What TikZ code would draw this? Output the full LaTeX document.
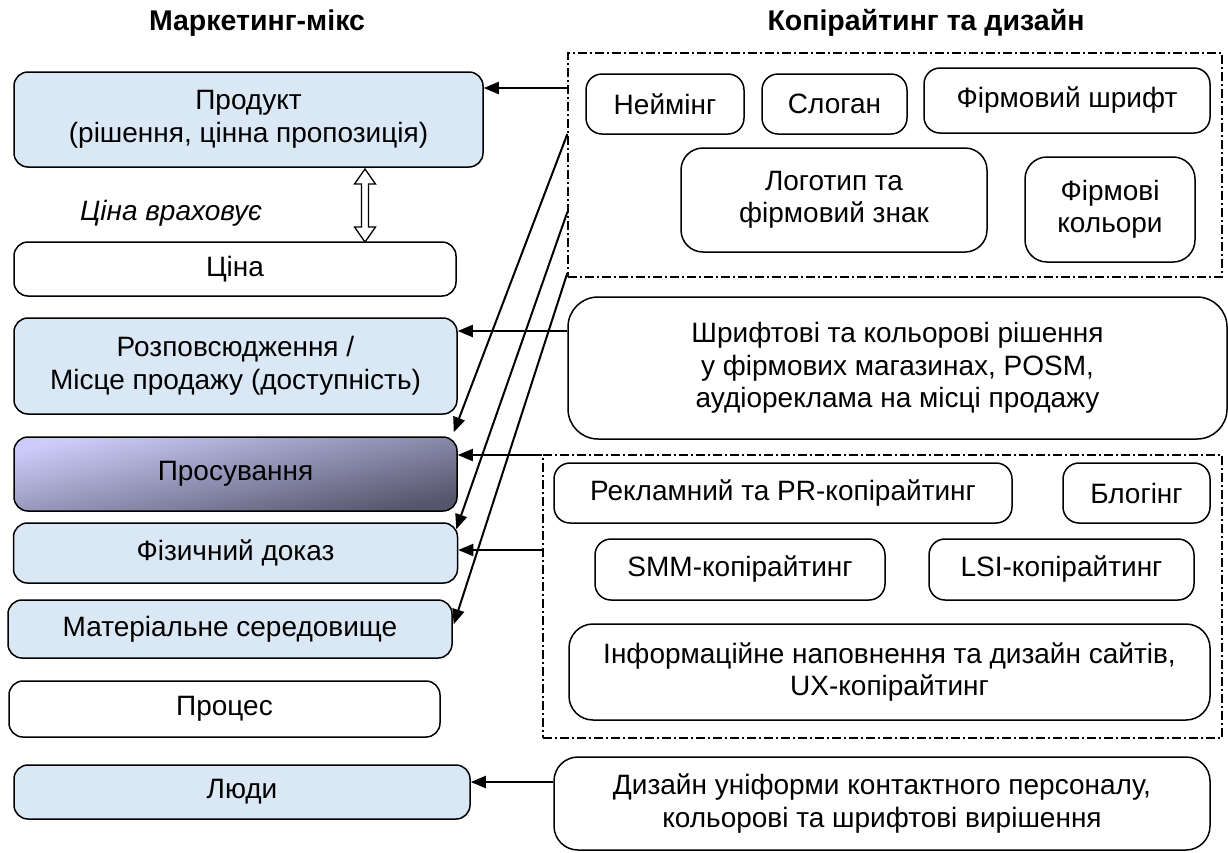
\documentclass[tikz,border=0pt]{standalone}
\usepackage{fontspec}
\setmainfont{Liberation Sans}
\usetikzlibrary{arrows.meta,calc}
\definecolor{texblue}{HTML}{DAE7F5}
\definecolor{plight}{HTML}{CCCCFA}
\definecolor{pdark}{HTML}{55556C}
\tikzset{
  base/.style={draw=black, line width=1.5pt, inner sep=0pt, align=center,
    font=\fontsize{28}{32.5}\selectfont},
  mixbox/.style={base, rounded corners=14pt, fill=texblue},
  plainbox/.style={base, rounded corners=14pt, fill=white},
  cbox/.style={base, rounded corners=16pt},
  bigbox/.style={base, rounded corners=30pt},
  frame/.style={draw=black, line width=1.3pt, dash pattern=on 9pt off 3pt on 2pt off 3pt, inner sep=0pt},
  arr/.style={line width=2pt, -{Triangle[length=15pt,width=12pt]}},
  title/.style={font=\fontsize{28.5}{32}\selectfont\bfseries},
}
\begin{document}
\begin{tikzpicture}[x=1pt,y=-1pt]
\useasboundingbox (0,0) rectangle (1228,852);
% titles
\node[title] (t1) at (257,23) {Маркетинг-мікс};
\node[title] (t2) at (926,23) {Копірайтинг та дизайн};
% frames
\node[frame, minimum width=654pt, minimum height=224pt] (fr1) at (895,165) {};
\node[frame, minimum width=679pt, minimum height=283pt] (fr2) at (882.5,596.5) {};
% left column
\node[mixbox, minimum width=469pt, minimum height=95pt] (prod) at (248.5,119.5) {Продукт\\(рішення, цінна пропозиція)};
\node[plainbox, minimum width=442pt, minimum height=54pt] (price) at (235,269) {Ціна};
\node[mixbox, minimum width=443pt, minimum height=96pt] (place) at (235.5,366) {Розповсюдження /\\Місце продажу (доступність)};
\node[base, rounded corners=14pt, top color=plight, bottom color=pdark, shading angle=12,
  minimum width=443pt, minimum height=74pt] (promo) at (235.5,474) {Просування};
\node[mixbox, minimum width=444pt, minimum height=60pt] (phys) at (235.5,553) {Фізичний доказ};
\node[mixbox, minimum width=444pt, minimum height=58pt] (matenv) at (230,629) {Матеріальне середовище};
\node[plainbox, minimum width=431pt, minimum height=56pt] (proc) at (224.5,709) {Процес};
\node[mixbox, minimum width=456pt, minimum height=54pt] (people) at (242,792) {Люди};
\node[font=\fontsize{28}{32.5}\selectfont\itshape] (note) at (171,213) {Ціна враховує};
% double arrow between product and price
\coordinate (dt) at (365,169);
\coordinate (db) at (365,242);
\draw[line width=1.3pt, fill=white] (dt) -- ++(10.5,15) -- ++(-7,0) |- ($(db)+(10.5,-15)$) -- (db)
  -- ++(-10.5,-15) -- ++(7,0) |- ($(dt)+(-10.5,15)$) -- cycle;
% right: top group
\node[cbox, minimum width=158pt, minimum height=60pt] (naming) at (665,104) {Неймінг};
\node[cbox, minimum width=145pt, minimum height=60pt] (slogan) at (834.5,104) {Слоган};
\node[cbox, minimum width=286pt, minimum height=65pt] (font) at (1067,100.5) {Фірмовий шрифт};
\node[cbox, minimum width=306pt, minimum height=104pt, rounded corners=22pt] (logo) at (834,200) {Логотип та\\фірмовий знак};
\node[cbox, minimum width=170pt, minimum height=105pt, rounded corners=22pt] (colors) at (1110,209.5) {Фірмові\\кольори};
\node[bigbox, minimum width=659pt, minimum height=142pt] (shr) at (897.5,368) {Шрифтові та кольорові рішення\\у фірмових магазинах, POSM,\\аудіореклама на місці продажу};
% right: copywriting group
\node[cbox, minimum width=458pt, minimum height=60pt] (adv) at (783,493) {Рекламний та PR-копірайтинг};
\node[cbox, minimum width=147pt, minimum height=60pt] (blog) at (1136.5,493) {Блогінг};
\node[cbox, minimum width=290pt, minimum height=61pt] (smm) at (740,569.5) {SMM-копірайтинг};
\node[cbox, minimum width=265pt, minimum height=61pt] (lsi) at (1061.5,569.5) {LSI-копірайтинг};
\node[bigbox, minimum width=641pt, minimum height=96pt, rounded corners=24pt] (info) at (889.5,672) {Інформаційне наповнення та дизайн сайтів,\\UX-копірайтинг};
\node[bigbox, minimum width=656pt, minimum height=93pt, rounded corners=24pt] (des) at (882,803.5) {Дизайн уніформи контактного персоналу,\\кольорові та шрифтові вирішення};
% connector levels
\coordinate (y88) at (0,88);
\coordinate (y134) at (0,134);
\coordinate (y212) at (0,212);
\coordinate (y273) at (0,273);
\coordinate (y331) at (0,331);
\coordinate (y455) at (0,455);
\coordinate (y550) at (0,550);
\coordinate (y782) at (0,782);
% arrows
\draw[arr] (fr1.west |- y88) -- (prod.east |- y88);
\draw[arr] (fr1.west |- y134) -- ($(promo.north east)+(-4,-4)$);
\draw[arr] (fr1.west |- y212) -- ($(phys.north east)+(-2,7)$);
\draw[arr] (fr1.west |- y273) -- ($(matenv.north east)+(1,25)$);
\draw[arr] (shr.west |- y331) -- (place.east |- y331);
\draw[arr] (fr2.west |- y455) -- (promo.east |- y455);
\draw[arr] (fr2.west |- y550) -- (phys.east |- y550);
\draw[arr] (des.west |- y782) -- (people.east |- y782);
\end{tikzpicture}
\end{document}
